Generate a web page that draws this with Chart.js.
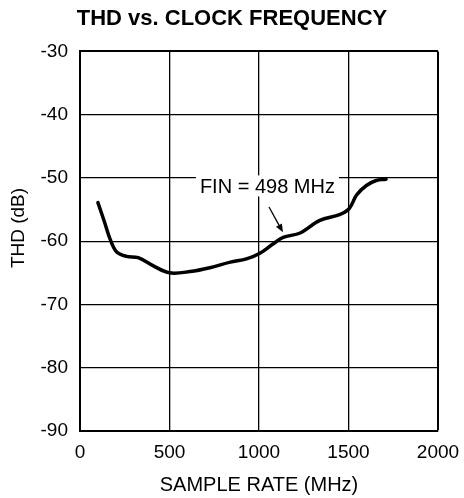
<!DOCTYPE html>
<html>
<head>
<meta charset="utf-8">
<title>THD vs. Clock Frequency</title>
<script src="https://cdn.jsdelivr.net/npm/chart.js@4/dist/chart.umd.min.js"></script>
<style>
    body { margin: 0; background: #fff; }
    canvas { display: block; }
</style>
</head>
<body>
<canvas id="thdChart" width="464" height="498"></canvas>
<script>
// ===== DATA =====

const sampleRate = [100, 135, 170, 205, 260, 325, 410, 500, 615, 725, 840, 930,
    1005, 1080, 1135, 1230, 1340, 1450, 1505, 1545, 1600, 1655, 1710];
const thd = [-53.9, -56.8, -59.8, -61.7, -62.4, -62.6, -63.9, -65.0, -64.8, -64.2, -63.3, -62.8,
    -61.9, -60.4, -59.4, -58.7, -56.7, -55.8, -54.8, -52.7, -51.2, -50.4, -50.2];

const xTicks = [0, 500, 1000, 1500, 2000];
const yTicks = [-90, -80, -70, -60, -50, -40, -30];

// callout label and its arrow, in data units
const noteText = 'FIN = 498 MHz';
const noteAt = [1047, -51.5];
const arrowFrom = [1056, -54.6];
const arrowTo = [1134, -58.6];

const FONT = "'Liberation Sans', Arial, sans-serif";

// ===== PLUGINS =====

// y axis title sits a little above the middle of the plot
const yTitlePlugin = {
    id: 'yTitle',
    afterDraw(chart) {
        const ctx = chart.ctx;
        ctx.save();
        ctx.translate(19, 228);
        ctx.rotate(-Math.PI / 2);
        ctx.font = '19px ' + FONT;
        ctx.fillStyle = '#000';
        ctx.textAlign = 'center';
        ctx.textBaseline = 'middle';
        ctx.fillText('THD (dB)', 0, 0);
        ctx.restore();
    }
};

const calloutPlugin = {
    id: 'callout',
    afterDatasetsDraw(chart) {
        const ctx = chart.ctx;
        const x = chart.scales.x;
        const y = chart.scales.y;

        const tx = x.getPixelForValue(noteAt[0]);
        const ty = y.getPixelForValue(noteAt[1]);

        ctx.save();
        ctx.font = '20px ' + FONT;
        const w = ctx.measureText(noteText).width;
        ctx.fillStyle = '#fff';
        ctx.fillRect(tx - w / 2 - 4, ty - 12, w + 8, 21);
        ctx.fillStyle = '#000';
        ctx.textAlign = 'center';
        ctx.textBaseline = 'middle';
        ctx.fillText(noteText, tx, ty);

        // arrow
        const x0 = x.getPixelForValue(arrowFrom[0]);
        const y0 = y.getPixelForValue(arrowFrom[1]);
        const x1 = x.getPixelForValue(arrowTo[0]);
        const y1 = y.getPixelForValue(arrowTo[1]);
        const ang = Math.atan2(y1 - y0, x1 - x0);
        const head = 9;
        ctx.strokeStyle = '#000';
        ctx.lineWidth = 1.3;
        ctx.beginPath();
        ctx.moveTo(x0, y0);
        ctx.lineTo(x1 - Math.cos(ang) * head * 0.7, y1 - Math.sin(ang) * head * 0.7);
        ctx.stroke();
        ctx.beginPath();
        ctx.moveTo(x1, y1);
        ctx.lineTo(x1 - head * Math.cos(ang - 0.38), y1 - head * Math.sin(ang - 0.38));
        ctx.lineTo(x1 - head * Math.cos(ang + 0.38), y1 - head * Math.sin(ang + 0.38));
        ctx.closePath();
        ctx.fill();
        ctx.restore();
    }
};

// ===== CHART =====

function edgeWidth(max) {
    return (c) => (c.tick && c.tick.value === max ? 2 : 1.3);
}

new Chart(document.getElementById('thdChart'), {
    type: 'scatter',
    data: {
        datasets: [{
            data: sampleRate.map((f, i) => ({ x: f, y: thd[i] })),
            showLine: true,
            borderColor: '#000',
            borderWidth: 3.5,
            pointRadius: 0,
            tension: 0.35,
            borderCapStyle: 'round'
        }]
    },
    options: {
        responsive: false,
        animation: false,
        devicePixelRatio: 1,
        layout: {
            padding: 0
        },
        plugins: {
            legend: { display: false },
            tooltip: { enabled: false },
            title: {
                display: true,
                text: 'THD vs. CLOCK FREQUENCY',
                color: '#000',
                font: { family: FONT, size: 22, weight: 'bold', lineHeight: 1.2 },
                padding: { top: 6, bottom: 19 }
            }
        },
        scales: {
            x: {
                type: 'linear',
                min: xTicks[0],
                max: xTicks[xTicks.length - 1],
                afterBuildTicks: (s) => { s.ticks = xTicks.map(v => ({ value: v })); },
                afterFit: (s) => {
                    // fixed axis band; right padding leaves room for the "2000" label
                    s.height = 67;
                    s.paddingLeft = 0;
                    s.paddingRight = 26;
                },
                ticks: {
                    color: '#000',
                    padding: 10,
                    maxRotation: 0,
                    font: { family: FONT, size: 19 },
                    callback: (v) => String(v)
                },
                grid: {
                    color: '#000',
                    lineWidth: edgeWidth(xTicks[xTicks.length - 1]),
                    drawTicks: false
                },
                border: { display: true, color: '#000', width: 2 },
                title: {
                    display: true,
                    text: 'SAMPLE RATE (MHz)',
                    color: '#000',
                    font: { family: FONT, size: 20, lineHeight: 1.2 },
                    padding: { top: 0, bottom: 1 }
                }
            },
            y: {
                type: 'linear',
                min: yTicks[0],
                max: yTicks[yTicks.length - 1],
                afterBuildTicks: (s) => { s.ticks = yTicks.map(v => ({ value: v })); },
                afterFit: (s) => {
                    s.width = 80;
                    s.paddingTop = 0;
                    s.paddingBottom = 0;
                },
                ticks: {
                    color: '#000',
                    padding: 12,
                    font: { family: FONT, size: 19 },
                    callback: (v) => String(v)
                },
                grid: {
                    color: '#000',
                    lineWidth: edgeWidth(yTicks[yTicks.length - 1]),
                    drawTicks: false
                },
                border: { display: true, color: '#000', width: 2 }
            }
        }
    },
    plugins: [yTitlePlugin, calloutPlugin]
});
</script>
</body>
</html>
